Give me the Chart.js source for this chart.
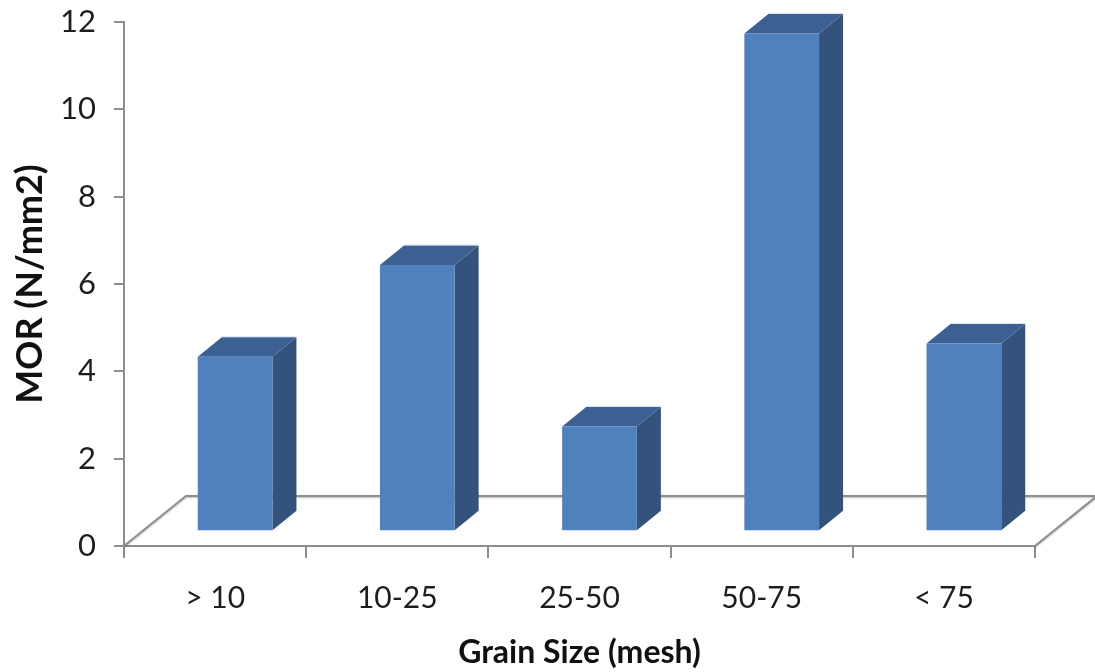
<!DOCTYPE html>
<html>
<head>
<meta charset="utf-8">
<script src="https://cdn.jsdelivr.net/npm/chart.js@4.4.1/dist/chart.umd.min.js"></script>
<style>
  html, body { margin: 0; padding: 0; background: #ffffff; }
  #wrap { width: 1095px; height: 672px; }
</style>
</head>
<body>
<div id="wrap"><canvas id="chart" width="1095" height="672"></canvas></div>
<script>
// Modulus of rupture by grain size
const grainSizes = ['> 10', '10-25', '25-50', '50-75', '< 75'];
const morValues = [4.0, 6.1, 2.4, 11.4, 4.3];
const yTicks = [0, 2, 4, 6, 8, 10, 12];

const FONT = 'Lato, "Open Sans", sans-serif';
const AXIS_GREY = '#8e8e8e';

// Oblique "3D" look: floor depth, bar placement inside the floor, bar depth
const FLOOR_DX = 62, FLOOR_DY = -50;
const BAR_SHIFT_X = 20, BAR_SHIFT_Y = -14.7;
const BAR_DX = 24, BAR_DY = -19.5;

const floorPlugin = {
  id: 'floor3d',
  beforeDatasetsDraw(chart) {
    const { ctx, chartArea: a } = chart;
    ctx.save();
    ctx.strokeStyle = AXIS_GREY;
    ctx.lineWidth = 2;
    ctx.shadowColor = 'rgba(0,0,0,0.25)';
    ctx.shadowBlur = 2;
    ctx.shadowOffsetY = 1;
    ctx.beginPath();
    ctx.moveTo(a.left, a.bottom);
    ctx.lineTo(a.left + FLOOR_DX, a.bottom + FLOOR_DY);
    ctx.lineTo(a.right + FLOOR_DX, a.bottom + FLOOR_DY);
    ctx.lineTo(a.right, a.bottom);
    ctx.stroke();
    ctx.restore();
  },
  beforeDatasetDraw(chart, args) {
    const ctx = chart.ctx;
    ctx.save();
    ctx.translate(BAR_SHIFT_X, BAR_SHIFT_Y);
    args.meta.data.forEach(bar => {
      const p = bar.getProps(['x', 'y', 'base', 'width'], true);
      const l = p.x - p.width / 2, r = p.x + p.width / 2;
      // side face
      ctx.fillStyle = '#33537d';
      ctx.beginPath();
      ctx.moveTo(r, p.y);
      ctx.lineTo(r + BAR_DX, p.y + BAR_DY);
      ctx.lineTo(r + BAR_DX, p.base + BAR_DY);
      ctx.lineTo(r, p.base);
      ctx.closePath();
      ctx.fill();
      // top face
      ctx.fillStyle = '#3b6091';
      ctx.beginPath();
      ctx.moveTo(l, p.y);
      ctx.lineTo(l + BAR_DX, p.y + BAR_DY);
      ctx.lineTo(r + BAR_DX, p.y + BAR_DY);
      ctx.lineTo(r, p.y);
      ctx.closePath();
      ctx.fill();
      // soft highlight on the back edge of the top
      ctx.strokeStyle = 'rgba(200,215,235,0.7)';
      ctx.lineWidth = 1;
      ctx.beginPath();
      ctx.moveTo(l + BAR_DX, p.y + BAR_DY - 0.5);
      ctx.lineTo(r + BAR_DX, p.y + BAR_DY - 0.5);
      ctx.stroke();
    });
  },
  afterDatasetDraw(chart) {
    chart.ctx.restore();
  }
};

new Chart(document.getElementById('chart'), {
  type: 'bar',
  data: {
    labels: grainSizes,
    datasets: [{
      data: morValues,
      backgroundColor: '#4f81bd',
      borderWidth: 0,
      barPercentage: 0.41,
      categoryPercentage: 1,
      clip: false
    }]
  },
  options: {
    responsive: false,
    animation: false,
    devicePixelRatio: 1,
    layout: { padding: { top: 22, right: 60, left: 0, bottom: 0 } },
    plugins: { legend: { display: false }, tooltip: { enabled: false } },
    scales: {
      x: {
        offset: true,
        grid: {
          offset: true,
          drawOnChartArea: false,
          drawTicks: true,
          tickLength: 12,
          color: AXIS_GREY,
          lineWidth: 2
        },
        border: { display: true, color: AXIS_GREY, width: 2 },
        ticks: {
          color: '#1e1e1e',
          font: { family: FONT, size: 30 },
          padding: 22,
          maxRotation: 0
        },
        title: {
          display: true,
          text: 'Grain Size (mesh)',
          color: '#111',
          font: { family: FONT, size: 32, weight: 'bold' },
          padding: { top: 4, bottom: 0 }
        },
        afterFit(scale) { scale.height = 126; }
      },
      y: {
        min: 0,
        max: 12,
        afterBuildTicks(scale) { scale.ticks = yTicks.map(v => ({ value: v })); },
        grid: {
          drawOnChartArea: false,
          drawTicks: true,
          tickLength: 10,
          color: AXIS_GREY,
          lineWidth: 2
        },
        border: { display: true, color: AXIS_GREY, width: 2 },
        ticks: {
          color: '#1e1e1e',
          font: { family: FONT, size: 31 },
          padding: 18
        },
        title: {
          display: true,
          text: 'MOR (N/mm2)',
          color: '#111',
          font: { family: FONT, size: 36, weight: 'bold' },
          padding: { top: 9, bottom: 0 }
        },
        afterFit(scale) {
          scale.width = 124;
          scale.paddingTop = 0;
          scale.paddingBottom = 0;
        }
      }
    }
  },
  plugins: [floorPlugin]
});
</script>
</body>
</html>
